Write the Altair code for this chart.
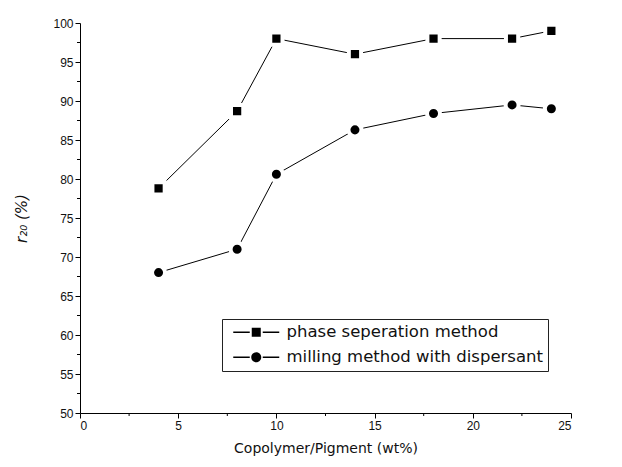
import altair as alt
import pandas as pd

x_vals = [4, 8, 10, 14, 18, 22, 24]
phase = [78.8, 88.7, 98.0, 96.0, 98.0, 98.0, 99.0]
milling = [68.0, 71.0, 80.6, 86.3, 88.4, 89.5, 89.0]
series_names = ["phase seperation method", "milling method with dispersant"]
x_major = [0, 5, 10, 15, 20, 25]
y_major = [50, 55, 60, 65, 70, 75, 80, 85, 90, 95, 100]
x_minor = [2.5, 7.5, 12.5, 17.5, 22.5]
y_minor = [52.5, 57.5, 62.5, 67.5, 72.5, 77.5, 82.5, 87.5, 92.5, 97.5]

W, H = 491, 390

df = pd.DataFrame({
    "x": x_vals * 2,
    "y": phase + milling,
    "series": [series_names[0]] * len(x_vals) + [series_names[1]] * len(x_vals),
})
xminor_df = pd.DataFrame({"x": x_minor})
yminor_df = pd.DataFrame({"y": y_minor})

xs = alt.Scale(domain=[0, 25], nice=False, zero=False)
ys = alt.Scale(domain=[50, 100], nice=False, zero=False)

common_axis = dict(grid=False, tickSize=5, tickColor="black", domainColor="black",
                   labelFont="Liberation Sans", labelFontSize=12, labelColor="#111",
                   titleColor="#111", labelPadding=2, labelOverlap=False)

xaxis = alt.Axis(values=x_major, title="Copolymer/Pigment (wt%)", titleFont="DejaVu Sans",
                 titleFontSize=14, titleFontWeight="normal", titlePadding=10, format="d",
                 **common_axis)
yaxis = alt.Axis(values=y_major, title="r₂₀ (%)", titleFont="DejaVu Sans",
                 titleFontSize=15, titleFontWeight="normal", titleFontStyle="italic",
                 titlePadding=23, format="d", **common_axis)

X = alt.X("x:Q", scale=xs, axis=xaxis)
Y = alt.Y("y:Q", scale=ys, axis=yaxis)

lines = alt.Chart(df).mark_line(color="black", strokeWidth=1).encode(
    x=X, y=Y, detail="series:N")

squares = alt.Chart(df).transform_filter(
    alt.datum.series == series_names[0]
).mark_square(fill="black", stroke="white", strokeWidth=4, size=150, opacity=1).encode(x=X, y=Y)

circles = alt.Chart(df).transform_filter(
    alt.datum.series == series_names[1]
).mark_circle(fill="black", stroke="white", strokeWidth=4, size=170, opacity=1).encode(x=X, y=Y)

# legend glyphs "—■—" / "—●—" drawn as filled shapes
sq_path = ("M-4.6,-0.17H-1.3V0.17H-4.6Z M1.3,-0.17H4.6V0.17H1.3Z "
           "M-0.9,-0.9H0.9V0.9H-0.9Z")
ci_path = ("M-4.6,-0.17H-1.3V0.17H-4.6Z M1.3,-0.17H4.6V0.17H1.3Z "
           "M1,0A1,1,0,1,1,-1,0A1,1,0,1,1,1,0Z")

legend_layer = alt.Chart(df).transform_filter("false").mark_point(
    filled=True, fill="black", opacity=1).encode(
    x=X, y=Y,
    shape=alt.Shape("series:N",
                    scale=alt.Scale(domain=series_names, range=[sq_path, ci_path]),
                    legend=alt.Legend(title=None, orient="none", legendX=142, legendY=296,
                                      symbolSize=100, symbolFillColor="black",
                                      symbolStrokeWidth=0,
                                      symbolOffset=21, labelOffset=22,
                                      labelFont="DejaVu Sans", labelFontSize=16.5,
                                      labelColor="#111", labelLimit=400,
                                      rowPadding=8, padding=5,
                                      strokeColor="#222", fillColor="white")))

xminor = alt.Chart(xminor_df).mark_rule(color="black", strokeWidth=1).encode(
    x=X, y=alt.value(H), y2=alt.value(H + 3))
yminor = alt.Chart(yminor_df).mark_rule(color="black", strokeWidth=1).encode(
    y=Y, x=alt.value(-3), x2=alt.value(0))

chart = alt.layer(lines, squares, circles, legend_layer, xminor, yminor).properties(
    width=W, height=H,
    padding={"left": 6, "top": 8, "right": 6, "bottom": 5},
).configure_view(stroke=None).configure_axis(domainWidth=1, tickWidth=1, labelOverlap=False)

chart.save("out.html", embed_options={"renderer": "svg", "actions": False})
